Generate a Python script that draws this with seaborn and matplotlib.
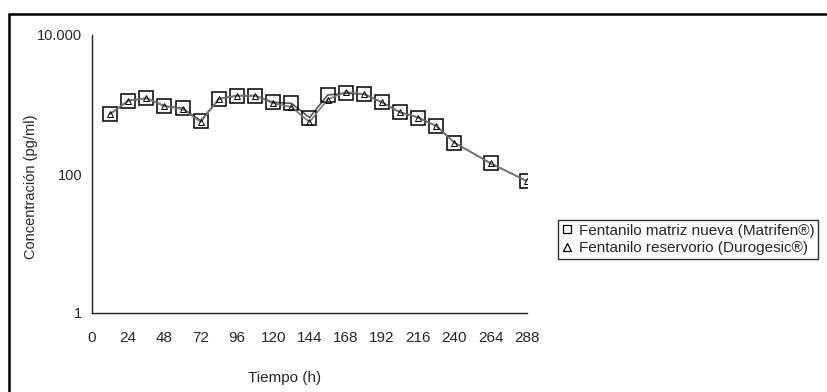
import matplotlib
matplotlib.use("Agg")
import matplotlib.pyplot as plt
import seaborn as sns
import pandas as pd
from matplotlib.lines import Line2D
from matplotlib.patches import Rectangle

# valores
tiempo = [12, 24, 36, 48, 60, 72, 84, 96, 108, 120, 132, 144, 156, 168, 180,
          192, 204, 216, 228, 240, 264, 288]
matrifen = [730, 1135, 1230, 950, 880, 585, 1200, 1340, 1340, 1075, 1040, 650,
            1370, 1450, 1415, 1075, 770, 650, 490, 282, 142, 79]
durogesic = [730, 1135, 1230, 950, 860, 560, 1200, 1340, 1340, 1040, 920, 560,
             1180, 1520, 1415, 1075, 770, 650, 490, 282, 142, 79]
series = ["Fentanilo matriz nueva (Matrifen®)", "Fentanilo reservorio (Durogesic®)"]

df = pd.concat([
    pd.DataFrame({"Tiempo": tiempo, "Conc": matrifen, "Serie": series[0]}),
    pd.DataFrame({"Tiempo": tiempo, "Conc": durogesic, "Serie": series[1]}),
])

sns.set_style("white")
plt.rcParams["font.family"] = ["Liberation Sans", "DejaVu Sans"]

fig = plt.figure(figsize=(8.28, 3.92), dpi=100)
ax = fig.add_axes([92/828, 1-313/392, 435/828, 278/392])

sns.lineplot(data=df, x="Tiempo", y="Conc", hue="Serie", style="Serie",
             palette=["#555555", "#777777"], markers=["s", "^"], dashes=False,
             markersize=9, markerfacecolor="none", markeredgecolor="black",
             markeredgewidth=1.1, linewidth=1.2, legend=False, ax=ax)
# triángulos más pequeños dentro de los cuadrados
for ln, ms in zip(ax.lines, [9.5, 5]):
    ln.set_markersize(ms)
    ln.set_markeredgewidth(1.1 if ms > 9 else 0.7)

ax.set_yscale("log")
ax.set_ylim(1, 10000)
ax.set_xlim(0, 288)
ax.set_xticks(range(0, 289, 24))
ax.set_yticks([1, 100, 10000])
ax.set_yticklabels(["1", "100", "10.000"])
ax.yaxis.set_minor_locator(matplotlib.ticker.NullLocator())
ax.tick_params(axis="y", direction="out", length=5, width=1, labelsize=10.5, pad=2)
ax.tick_params(axis="x", direction="in", length=4, width=1, labelsize=11, pad=13)
for s in ["top", "right"]:
    ax.spines[s].set_visible(False)
for s in ["left", "bottom"]:
    ax.spines[s].set_color("#222222")
    ax.spines[s].set_linewidth(1.0)

ax.set_xlabel("Tiempo (h)", fontsize=11)
ax.set_ylabel("Concentración (pg/ml)", fontsize=10.5)
ax.xaxis.set_label_coords((285-92)/435, -0.21)
ax.yaxis.set_label_coords(-0.125, (313-187)/278)

handles = [
    Line2D([], [], linestyle="none", marker="s", markersize=6, markerfacecolor="none",
           markeredgecolor="black", markeredgewidth=0.9),
    Line2D([], [], linestyle="none", marker="^", markersize=6, markerfacecolor="none",
           markeredgecolor="black", markeredgewidth=0.9),
]
leg = fig.legend(handles, series, loc="upper left", bbox_to_anchor=(558/828, 1-220/392),
                 fontsize=11, frameon=True, fancybox=False, handlelength=0.7,
                 handletextpad=0.4, borderpad=0.25, labelspacing=0.2, borderaxespad=0)
leg.get_frame().set_edgecolor("black")
leg.get_frame().set_linewidth(1.0)

# marco de la figura (borde izquierdo y superior)
fig.patches.append(Rectangle((9/828, -0.1), 1.2, 1 - 14/392 + 0.1,
                             transform=fig.transFigure, fill=False,
                             edgecolor="black", linewidth=1.8))

fig.savefig("out.png", dpi=100)
